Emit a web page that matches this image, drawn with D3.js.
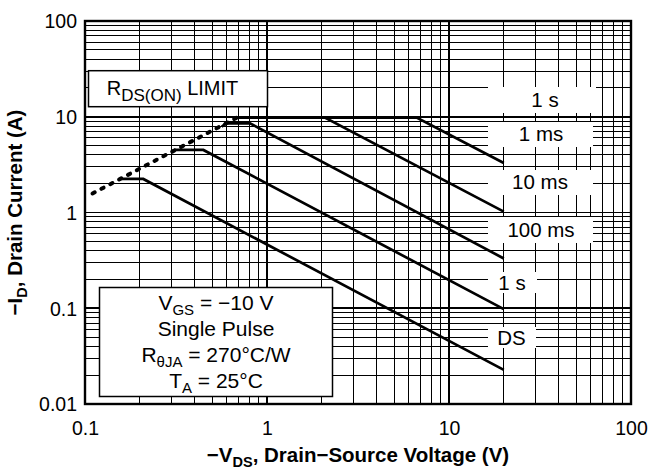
<!DOCTYPE html>
<html>
<head>
<meta charset="utf-8">
<script src="https://cdn.jsdelivr.net/npm/d3@7"></script>
<style>
  html, body { margin: 0; padding: 0; background: #fff; }
  svg { display: block; font-family: "Liberation Sans", Arial, Helvetica, sans-serif; }
</style>
</head>
<body>
<svg id="chart" width="649" height="470"></svg>
<script>
// ---------- data ----------
const xDomain = [0.1, 100];
const yDomain = [0.01, 100];
const xTickValues = [0.1, 1, 10, 100];
const xTickLabels = ["0.1", "1", "10", "100"];
const yTickValues = [0.01, 0.1, 1, 10, 100];
const yTickLabels = ["0.01", "0.1", "1", "10", "100"];

// safe operating area curves: [VDS (V), ID (A)]
const curveA = [[0.68, 9.8], [6.64, 9.8], [20, 3.29]];
const curveB = [[0.68, 9.8], [2.08, 9.8], [20, 1.02]];
const curveC = [[0.564, 7.87], [0.594, 8.54], [0.807, 8.54], [20, 0.331]];
const curveD = [[0.299, 4.3], [0.312, 4.5], [0.447, 4.5], [20, 0.098]];
const curveE = [[0.16, 2.24], [0.209, 2.24], [20, 0.0227]];
const rdsLimit = [[0.11, 1.58], [0.68, 9.75]];

const curveLabels = ["1 s", "1 ms", "10 ms", "100 ms", "1 s", "DS"];

// ---------- layout ----------
const svg = d3.select("#chart");
const L = 85, R = 631, T = 21, B = 404;
const x = d3.scaleLog().domain(xDomain).range([L, R]);
const y = d3.scaleLog().domain(yDomain).range([B, T]);
const FONT = "'Liberation Sans', Arial, Helvetica, sans-serif";

// grid
const gGrid = svg.append("g").attr("shape-rendering", "crispEdges");
gGrid.selectAll("line.vx").data(x.ticks()).join("line")
  .attr("x1", d => x(d)).attr("x2", d => x(d))
  .attr("y1", T).attr("y2", B)
  .attr("stroke", "#000")
  .attr("stroke-width", d => xTickValues.includes(d) ? 1.6 : 1);
gGrid.selectAll("line.hy").data(y.ticks()).join("line")
  .attr("y1", d => y(d)).attr("y2", d => y(d))
  .attr("x1", L).attr("x2", R)
  .attr("stroke", "#000")
  .attr("stroke-width", d => yTickValues.includes(d) ? 1.6 : 1);

// white label boxes (cover grid)
const labelLayout = [
  {bx: 488, by: 87, bw: 108, bh: 26, tx: 545, ty: 107},
  {bx: 488, by: 122, bw: 105, bh: 25, tx: 541, ty: 141},
  {bx: 488, by: 170, bw: 105, bh: 25, tx: 540, ty: 189},
  {bx: 488, by: 217, bw: 105, bh: 26, tx: 541, ty: 237},
  {bx: 488, by: 272, bw: 49, bh: 21, tx: 512, ty: 290},
  {bx: 488, by: 327, bw: 48, bh: 21, tx: 511.5, ty: 345}
];
const gLab = svg.append("g");
labelLayout.forEach((p, i) => {
  gLab.append("rect").attr("x", p.bx).attr("y", p.by).attr("width", p.bw).attr("height", p.bh)
    .attr("fill", "#fff");
  gLab.append("text").attr("x", p.tx).attr("y", p.ty).attr("text-anchor", "middle")
    .attr("font-size", 20.5).attr("fill", "#000").text(curveLabels[i]);
});

// curves
const line = d3.line().x(d => x(d[0])).y(d => y(d[1]));
const gCurves = svg.append("g");
[curveA, curveB, curveC, curveD, curveE].forEach(c => {
  gCurves.append("path").attr("d", line(c)).attr("fill", "none")
    .attr("stroke", "#000").attr("stroke-width", 2.7).attr("stroke-linejoin", "miter");
});
gCurves.append("path").attr("d", line(rdsLimit)).attr("fill", "none")
  .attr("stroke", "#000").attr("stroke-width", 4)
  .attr("stroke-linecap", "round").attr("stroke-dasharray", "2.5 7.5");

// RDS(ON) LIMIT box
svg.append("rect").attr("x", 88.5).attr("y", 70.7).attr("width", 179).attr("height", 36)
  .attr("fill", "#fff").attr("stroke", "#000").attr("stroke-width", 1.5);
const tR = svg.append("text").attr("x", 106.7).attr("y", 95).attr("font-size", 20).attr("fill", "#000");
tR.append("tspan").text("R");
tR.append("tspan").attr("font-size", 17).attr("dy", 6).text("DS(ON)");
tR.append("tspan").attr("dy", -6).text(" LIMIT");

// info box
svg.append("rect").attr("x", 99.5).attr("y", 287.5).attr("width", 233).attr("height", 109)
  .attr("fill", "#fff").attr("stroke", "#000").attr("stroke-width", 1.5);
const cx = 216;
const l1 = svg.append("text").attr("x", cx).attr("y", 310).attr("text-anchor", "middle").attr("font-size", 21);
l1.append("tspan").text("V");
l1.append("tspan").attr("font-size", 15).attr("dy", 5).text("GS");
l1.append("tspan").attr("dy", -5).text(" = \u221210 V");
svg.append("text").attr("x", cx).attr("y", 336).attr("text-anchor", "middle").attr("font-size", 21).text("Single Pulse");
const l3 = svg.append("text").attr("x", cx).attr("y", 362).attr("text-anchor", "middle").attr("font-size", 21);
l3.append("tspan").text("R");
l3.append("tspan").attr("font-size", 15).attr("dy", 5).text("\u03B8JA");
l3.append("tspan").attr("dy", -5).text(" = 270\u00B0C/W");
const l4 = svg.append("text").attr("x", cx).attr("y", 388).attr("text-anchor", "middle").attr("font-size", 21);
l4.append("tspan").text("T");
l4.append("tspan").attr("font-size", 15).attr("dy", 5).text("A");
l4.append("tspan").attr("dy", -5).text(" = 25\u00B0C");

// frame
svg.append("rect").attr("x", L).attr("y", T).attr("width", R - L).attr("height", B - T)
  .attr("fill", "none").attr("stroke", "#000").attr("stroke-width", 2.4);

// axes tick labels
const xAxis = d3.axisBottom(x).tickValues(xTickValues).tickFormat((d, i) => xTickLabels[i]).tickSize(0).tickPadding(0);
const gx = svg.append("g").attr("transform", `translate(0,${B})`).call(xAxis);
gx.select(".domain").remove();
gx.selectAll("text").attr("font-size", 19.5).attr("font-family", FONT).attr("fill", "#000")
  .attr("dy", null).attr("y", 31);

const yAxis = d3.axisLeft(y).tickValues(yTickValues).tickFormat((d, i) => yTickLabels[i]).tickSize(0).tickPadding(0);
const gy = svg.append("g").attr("transform", `translate(${L},0)`).call(yAxis);
gy.select(".domain").remove();
gy.selectAll("text").attr("font-size", 19.5).attr("font-family", FONT).attr("fill", "#000")
  .attr("x", -8).attr("dy", "0.35em");

// axis titles
const xt = svg.append("text").attr("x", 358).attr("y", 462).attr("text-anchor", "middle")
  .attr("font-size", 20.5).attr("font-weight", "bold");
xt.append("tspan").text("\u2212V");
xt.append("tspan").attr("font-size", 14.5).attr("dy", 5).text("DS");
xt.append("tspan").attr("dy", -5).text(", Drain\u2212Source Voltage (V)");

const yt = svg.append("text").attr("transform", `translate(22,${(T + B) / 2}) rotate(-90)`)
  .attr("text-anchor", "middle").attr("font-size", 20.5).attr("font-weight", "bold");
yt.append("tspan").text("\u2212I");
yt.append("tspan").attr("font-size", 14.5).attr("dy", 5).text("D");
yt.append("tspan").attr("dy", -5).text(", Drain Current (A)");
</script>
</body>
</html>
